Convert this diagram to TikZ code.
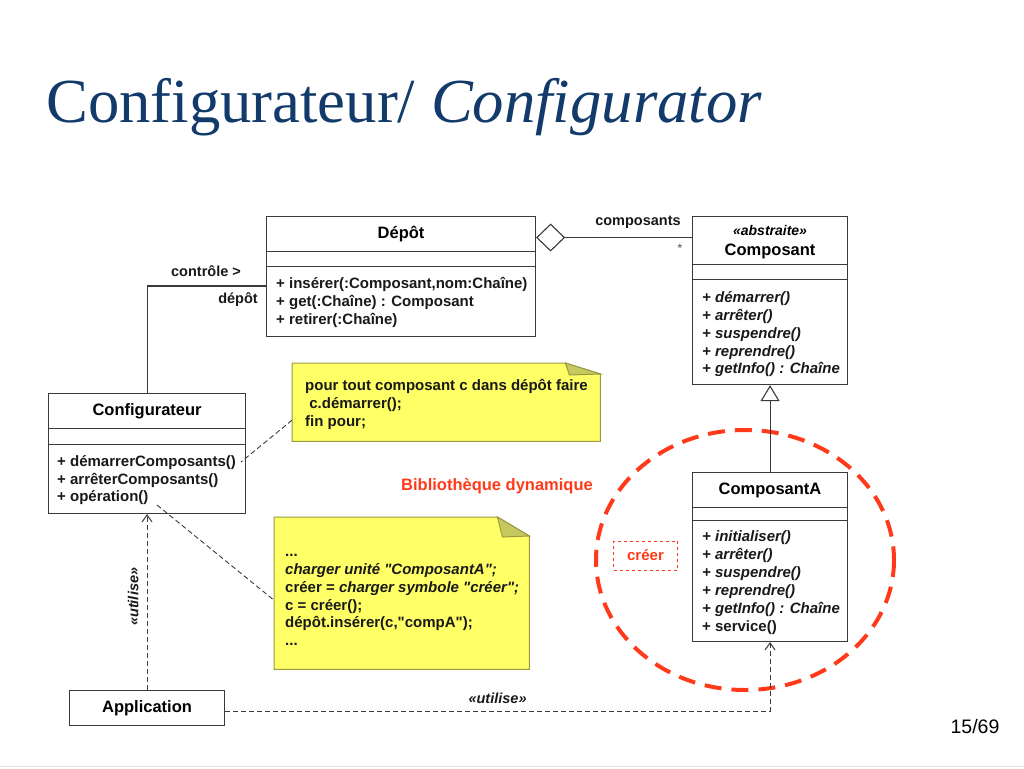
\documentclass[tikz,border=0pt]{standalone}
\usepackage{fontspec}
\setmainfont{Liberation Sans}[Ligatures=TeXOff]
\newfontfamily\titlefont{Liberation Serif}
\usetikzlibrary{arrows.meta,backgrounds}
\definecolor{titleblue}{HTML}{123A6B}
\definecolor{libred}{HTML}{FF3A1A}
\definecolor{noteyellow}{HTML}{FFFF66}
\definecolor{notefold}{HTML}{C8C860}
\definecolor{noteline}{HTML}{9A9A40}
\definecolor{umlline}{HTML}{3A3A3A}
\tikzstyle{classbox}=[draw=umlline,line width=1.1pt,fill=white,anchor=north west,inner sep=0pt,font=\fontsize{16.5}{19}\bfseries,text height=11pt,text depth=3pt]
\tikzstyle{ops}=[anchor=north west,inner sep=0pt,align=left,font=\fontsize{15}{18}\bfseries,text=black!90]
\tikzstyle{note}=[anchor=north west,inner sep=0pt]
\tikzstyle{notepaper}=[fill=noteyellow,draw=noteline,line width=1pt]
\tikzstyle{assoc}=[draw=umlline,line width=1.1pt]
\tikzstyle{aggr}=[draw=umlline,line width=1.1pt,{Diamond[open,fill=white,length=29pt,width=28pt]}-]
\tikzstyle{gen}=[draw=umlline,line width=1.1pt,-{Triangle[open,fill=white,length=16pt,width=19pt]}]
\tikzstyle{dep}=[draw=umlline,line width=1pt,dash pattern=on 5pt off 3pt,-{Straight Barb[length=7pt,width=10pt]}]
\tikzstyle{link}=[draw=umlline,line width=0.9pt,dash pattern=on 5pt off 3pt]
\tikzstyle{label}=[font=\fontsize{14.5}{17}\bfseries,text=black!90,inner sep=2pt]
\tikzstyle{stereo}=[font=\fontsize{14.5}{17}\bfseries\itshape,text=black!90,inner sep=2pt]
\newcommand{\tl}{\rule{0pt}{14pt}}

\begin{document}
\begin{tikzpicture}[x=1pt,y=-1pt]
        \useasboundingbox (0,0) rectangle (1024,768);
        % title and page number
        \node[anchor=base west,inner sep=0pt,text=titleblue,font=\titlefont\fontsize{62.7}{70}\selectfont] (title) at (46,122) {Configurateur/ \textit{Configurator}};
        \node[inner sep=0pt,font=\fontsize{19.5}{22}\selectfont] (page) at (975,727) {15/69};
        \draw[black!12,line width=1pt] (0,766.5) -- (1024,766.5);
        % bibliotheque dynamique
        \draw[libred,line width=4pt,dash pattern=on 17pt off 10pt] (745,560) ellipse [x radius=149,y radius=130];
        \node[font=\fontsize{16.5}{19}\bfseries,text=libred,inner sep=0pt] (biblabel) at (497,486) {Bibliothèque dynamique};
        \node[draw=libred,dashed,line width=0.8pt,minimum width=64pt,minimum height=29pt,inner sep=0pt,font=\fontsize{15}{18}\bfseries,text=libred] (creer) at (645.5,555.5) {créer};
        % Depot
        \node[classbox,minimum width=269pt,minimum height=35pt] (depot) at (266,216) {Dépôt};
        \node[classbox,minimum width=269pt,minimum height=15pt] (depotattr) at (266,251) {};
        \node[classbox,minimum width=269pt,minimum height=70pt] (depotops) at (266,266) {};
        \node[ops] (depottxt) at (276,274.4) {\tl+ insérer(:Composant,nom:Chaîne)\\+ get(:Chaîne) : Composant\\+ retirer(:Chaîne)};
        % Composant
        \node[classbox,minimum width=155pt,minimum height=48pt] (comp) at (692,216) {};
        \node[align=center,inner sep=0pt,font=\fontsize{16.5}{19}\bfseries] (compname) at ([yshift=-2pt]comp.center) {{\fontsize{14}{16}\bfseries\itshape «abstraite»}\\[1pt]Composant};
        \node[classbox,minimum width=155pt,minimum height=15pt] (compattr) at (692,264) {};
        \node[classbox,minimum width=155pt,minimum height=105pt] (compops) at (692,279) {};
        \node[ops,font=\fontsize{15}{17.8}\bfseries\itshape] (comptxt) at (702,288.4) {\tl+ démarrer()\\+ arrêter()\\+ suspendre()\\+ reprendre()\\+ getInfo() : Chaîne};
        % ComposantA
        \node[classbox,minimum width=155pt,minimum height=35pt] (compa) at (692,472) {ComposantA};
        \node[classbox,minimum width=155pt,minimum height=13pt] (compaattr) at (692,507) {};
        \node[classbox,minimum width=155pt,minimum height=121pt] (compaops) at (692,520) {};
        \node[ops] (compatxt) at (702,527.4) {\tl\textit{+ initialiser()}\\\textit{+ arrêter()}\\\textit{+ suspendre()}\\\textit{+ reprendre()}\\\textit{+ getInfo() : Chaîne}\\+ service()};
        % Configurateur
        \node[classbox,minimum width=197pt,minimum height=35pt] (conf) at (48,393) {Configurateur};
        \node[classbox,minimum width=197pt,minimum height=16pt] (confattr) at (48,428) {};
        \node[classbox,minimum width=197pt,minimum height=69pt] (confops) at (48,444) {};
        \node[ops,font=\fontsize{15}{17.5}\bfseries] (conftxt) at (57,452.4) {\tl+ démarrerComposants()\\+ arrêterComposants()\\+ opération()};
        % Application
        \node[classbox,minimum width=155pt,minimum height=35pt] (app) at (69,690) {Application};
        % notes
        \node[note,minimum width=308pt,minimum height=78pt] (note1) at (292,363) {};
        \node[note,minimum width=255pt,minimum height=152pt] (note2) at (274,517) {};
        \begin{scope}[on background layer]
        \path[notepaper] (note1.north west) -- ([xshift=-35pt]note1.north east) -- ([yshift=-11pt]note1.north east) -- (note1.south east) -- (note1.south west) -- cycle;
        \path[notepaper,fill=notefold] ([xshift=-35pt]note1.north east) -- ([yshift=-11pt]note1.north east) -- ([xshift=-31pt,yshift=-12pt]note1.north east) -- cycle;
        \path[notepaper] (note2.north west) -- ([xshift=-32pt]note2.north east) -- ([yshift=-19pt]note2.north east) -- (note2.south east) -- (note2.south west) -- cycle;
        \path[notepaper,fill=notefold] ([xshift=-32pt]note2.north east) -- ([yshift=-19pt]note2.north east) -- ([xshift=-27pt,yshift=-20pt]note2.north east) -- cycle;
        \end{scope}
        \node[ops] (note1txt) at (305,376.4) {\tl pour tout composant c dans dépôt faire\\\ c.démarrer();\\fin pour;};
        \node[ops,font=\fontsize{15}{17.8}\bfseries] (note2txt) at (285,542.4) {\tl...\\\textit{charger unité "ComposantA";}\\créer = \textit{charger symbole "créer";}\\c = créer();\\dépôt.insérer(c,"compA");\\...};
        \coordinate (demarrer) at (241,462);
        \coordinate (operation) at (157,505);
        \coordinate (depotleft) at (266,286);
        % connectors
        \path[assoc] (conf.north) |- (depotleft);
        \node[label] (ctrl) at (206,271) {contrôle >};
        \node[label] (roledepot) at (238,300) {dépôt};
        \path[aggr] ([yshift=-3.5pt]depot.east) -- ([yshift=3pt]comp.west);
        \node[label] (rolecomp) at (638,222) {composants};
        \node[font=\fontsize{12}{14}\selectfont,text=black!70,inner sep=0pt] (mult) at (680,248) {*};
        \path[gen] (compa.north) -- (compops.south);
        \path[link] ([yshift=-18pt]note1.west) -- (demarrer);
        \path[link] (operation) -- ([yshift=-7pt]note2.west);
        \path[dep] (app.north) -- node[stereo,pos=0.53,rotate=90,anchor=south,inner ysep=8pt] {«utilise»} (confops.south);
        \path[dep] ([yshift=-3pt]app.east) -| node[stereo,pos=0.25,above=5pt] {«utilise»} (compaops.south);
    \end{tikzpicture}
\end{document}
